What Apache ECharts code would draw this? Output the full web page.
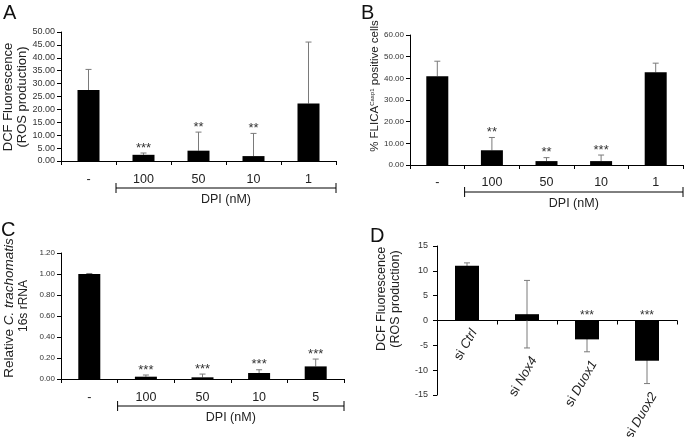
<!DOCTYPE html>
<html><head><meta charset="utf-8">
<script src="https://cdn.jsdelivr.net/npm/echarts@6.0.0/dist/echarts.min.js"></script>
<style>html,body{margin:0;padding:0;background:#fff}#c{width:685px;height:437px}</style>
</head><body><div id="c"></div>
<script>
// ---- data ----
const catsA = ['-', '100', '50', '10', '1'];
const valsA = [27.5, 2.4, 4.0, 1.9, 22.3];
const errA  = [8.0, 0.7, 7.2, 8.8, 23.8];
const starsA = ['', '***', '**', '**', ''];

const catsB = ['-', '100', '50', '10', '1'];
const valsB = [41.0, 6.8, 1.8, 1.8, 42.8];
const errB  = [6.9, 5.9, 1.6, 2.8, 4.2];
const starsB = ['', '**', '**', '***', ''];

const catsC = ['-', '100', '50', '10', '5'];
const valsC = [1.00, 0.022, 0.016, 0.057, 0.12];
const errC  = [0.005, 0.016, 0.031, 0.031, 0.07];
const starsC = ['', '***', '***', '***', '***'];

const catsD = ['Ctrl', 'Nox4', 'Duox1', 'Duox2'];
const valsD = [11.0, 1.27, -3.8, -8.1];
const errD  = [0.6, 6.8, 2.5, 4.6];
const starsD = ['', '', '***', '***'];

const bracketLabel = 'DPI (nM)';

// ---- style ----
const FONT = '"Liberation Sans", Arial, sans-serif';
const FONT_D = '"Liberation Sans", Arial, sans-serif';
const TXT = '#222';
const ERR = '#7a7a7a';

const grids = [
  {left: 61, top: 32, width: 275, height: 129},
  {left: 410, top: 35, width: 273, height: 130},
  {left: 61, top: 253, width: 283, height: 126},
  {left: 437, top: 246, width: 240, height: 149}
];

function xAxis(gi, cats, show, margin) {
  return {
    gridIndex: gi, type: 'category', data: cats,
    axisLine: {show: true, onZero: true, lineStyle: {color: '#000', width: 1}},
    axisTick: {show: true, length: 4, lineStyle: {color: '#000'}},
    axisLabel: {show: show, fontSize: 12.5, color: TXT, fontFamily: FONT, margin: margin},
    splitLine: {show: false}
  };
}
function yAxis(gi, min, max, interval, dec, fs, font, margin) {
  return {
    gridIndex: gi, type: 'value', min: min, max: max, interval: interval,
    axisLine: {show: true, lineStyle: {color: '#000', width: 1}},
    axisTick: {show: true, length: 4, lineStyle: {color: '#000'}},
    axisLabel: {fontSize: fs, color: '#333', fontFamily: font, margin: margin,
      formatter: v => v.toFixed(dec)},
    splitLine: {show: false}
  };
}

function errSeries(gi, vals, errs, stars, both) {
  return {
    type: 'custom', xAxisIndex: gi, yAxisIndex: gi, z: 1,
    data: vals.map((v, i) => [i, v]),
    renderItem: function (params, api) {
      const i = params.dataIndex;
      const v = vals[i], e = errs[i];
      const x = api.coord([i, v])[0];
      const yv = api.coord([i, v])[1];
      const yh = api.coord([i, v + e])[1];
      const yl = api.coord([i, v - e])[1];
      const y0 = api.coord([i, 0])[1];
      const cap = 3;
      const ls = {stroke: ERR, lineWidth: 1};
      const ch = [];
      if (both) {
        ch.push({type: 'line', shape: {x1: x, y1: yl, x2: x, y2: yh}, style: ls});
        ch.push({type: 'line', shape: {x1: x - cap, y1: yl, x2: x + cap, y2: yl}, style: ls});
      } else {
        ch.push({type: 'line', shape: {x1: x, y1: yv, x2: x, y2: yh}, style: ls});
      }
      ch.push({type: 'line', shape: {x1: x - cap, y1: yh, x2: x + cap, y2: yh}, style: ls});
      if (stars[i]) {
        const top = both ? Math.min(y0, yh) : yh;
        ch.push({type: 'text', x: x, y: top - 5,
          style: {text: stars[i], align: 'center', textAlign: 'center', verticalAlign: 'middle', textVerticalAlign: 'middle',
            font: (both ? '12px ' + FONT_D : '13px ' + FONT), fill: '#333'}});
      }
      return {type: 'group', children: ch};
    }
  };
}

function barSeries(gi, vals, w) {
  return {type: 'bar', xAxisIndex: gi, yAxisIndex: gi, data: vals, barWidth: w, z: 3,
    itemStyle: {color: '#000'}, silent: true};
}

function bracketSeries(gi, n) {
  return {
    type: 'custom', xAxisIndex: gi, yAxisIndex: gi, z: 2,
    data: [[1, 0]],
    renderItem: function (params, api) {
      const p1 = api.coord([1, 0]);
      const pn = api.coord([n - 1, 0]);
      const band = api.size([1, 0])[0];
      const x1 = p1[0] - band / 2, x2 = pn[0] + band / 2, y = p1[1] + 27;
      const ls = {stroke: '#000', lineWidth: 1};
      return {type: 'group', children: [
        {type: 'line', shape: {x1: x1, y1: y, x2: x2, y2: y}, style: ls},
        {type: 'line', shape: {x1: x1, y1: y - 5, x2: x1, y2: y + 5}, style: ls},
        {type: 'line', shape: {x1: x2, y1: y - 5, x2: x2, y2: y + 5}, style: ls},
        {type: 'text', x: (x1 + x2) / 2, y: y + 12,
          style: {text: bracketLabel, align: 'center', textAlign: 'center', verticalAlign: 'middle', textVerticalAlign: 'middle',
            font: '12.5px ' + FONT, fill: TXT}}
      ]};
    }
  };
}

function dLabelSeries(gi) {
  return {
    type: 'custom', xAxisIndex: gi, yAxisIndex: gi, z: 2,
    data: valsD.map((v, i) => [i, Math.min(0, v - errD[i])]),
    renderItem: function (params, api) {
      const i = params.dataIndex;
      const low = Math.min(0, valsD[i] - errD[i]);
      const p = api.coord([i, low]);
      return {type: 'text', x: p[0] + 7, y: p[1] + 10, rotation: Math.PI / 3,
        style: {text: 'si {i|' + catsD[i] + '}', align: 'right', textAlign: 'right', verticalAlign: 'middle', textVerticalAlign: 'middle',
          font: '13px ' + FONT_D, fill: TXT,
          rich: {i: {fontStyle: 'italic', fontSize: 13, fontFamily: FONT_D, fill: TXT, color: TXT}}}};
    }
  };
}

function vtext(x, y, text, font, rich) {
  const s = {text: text, align: 'center', textAlign: 'center', verticalAlign: 'middle', textVerticalAlign: 'middle', font: font, fill: TXT};
  if (rich) s.rich = rich;
  return {type: 'text', x: x, y: y, rotation: Math.PI / 2, style: s};
}
function letter(x, y, t) {
  return {type: 'text', x: x, y: y, style: {text: t, font: '20px ' + FONT, fill: '#111', align: 'left', textAlign: 'left', verticalAlign: 'top', textVerticalAlign: 'top'}};
}

const option = {
  animation: false,
  backgroundColor: '#fff',
  grid: grids,
  xAxis: [
    xAxis(0, catsA, true, 12),
    xAxis(1, catsB, true, 11),
    xAxis(2, catsC, true, 12),
    xAxis(3, catsD, false, 8)
  ],
  yAxis: [
    yAxis(0, 0, 50, 5, 2, 9, FONT, 6),
    yAxis(1, 0, 60, 10, 2, 8, FONT, 6),
    yAxis(2, 0, 1.2, 0.2, 2, 8, FONT, 6),
    yAxis(3, -15, 15, 5, 0, 9, FONT_D, 9)
  ],
  series: [
    errSeries(0, valsA, errA, starsA, false), barSeries(0, valsA, 22), bracketSeries(0, catsA.length),
    errSeries(1, valsB, errB, starsB, false), barSeries(1, valsB, 22), bracketSeries(1, catsB.length),
    errSeries(2, valsC, errC, starsC, false), barSeries(2, valsC, 22), bracketSeries(2, catsC.length),
    errSeries(3, valsD, errD, starsD, true), barSeries(3, valsD, 24), dLabelSeries(3)
  ],
  graphic: [
    letter(3, 3, 'A'), letter(361, 3, 'B'), letter(1, 220, 'C'), letter(370, 226, 'D'),
    vtext(8, 97, 'DCF Fluorescence', '13px ' + FONT),
    vtext(22, 97, '(ROS production)', '13px ' + FONT),
    vtext(375, 86, '% FLICA{sup|Casp1} positive cells', '11.5px ' + FONT,
      {sup: {fontSize: 6, fontFamily: FONT, fill: TXT, color: TXT, verticalAlign: 'top', padding: [0, 0, 5, 0]}}),
    vtext(9, 308, '{n|Relative }{i|C. trachomatis}', '13.5px ' + FONT,
      {n: {fontSize: 13.5, fontFamily: FONT, fill: TXT, color: TXT}, i: {fontSize: 13.5, fontFamily: FONT, fontStyle: 'italic', fill: TXT, color: TXT}}),
    vtext(24, 306, '16s rRNA', '12px ' + FONT),
    vtext(382, 299, 'DCF Fluorescence', '12.5px ' + FONT_D),
    vtext(396, 299, '(ROS production)', '12.5px ' + FONT_D)
  ]
};
const chart = echarts.init(document.getElementById('c'), null, {renderer: 'canvas'});
chart.setOption(option);
</script></body></html>
